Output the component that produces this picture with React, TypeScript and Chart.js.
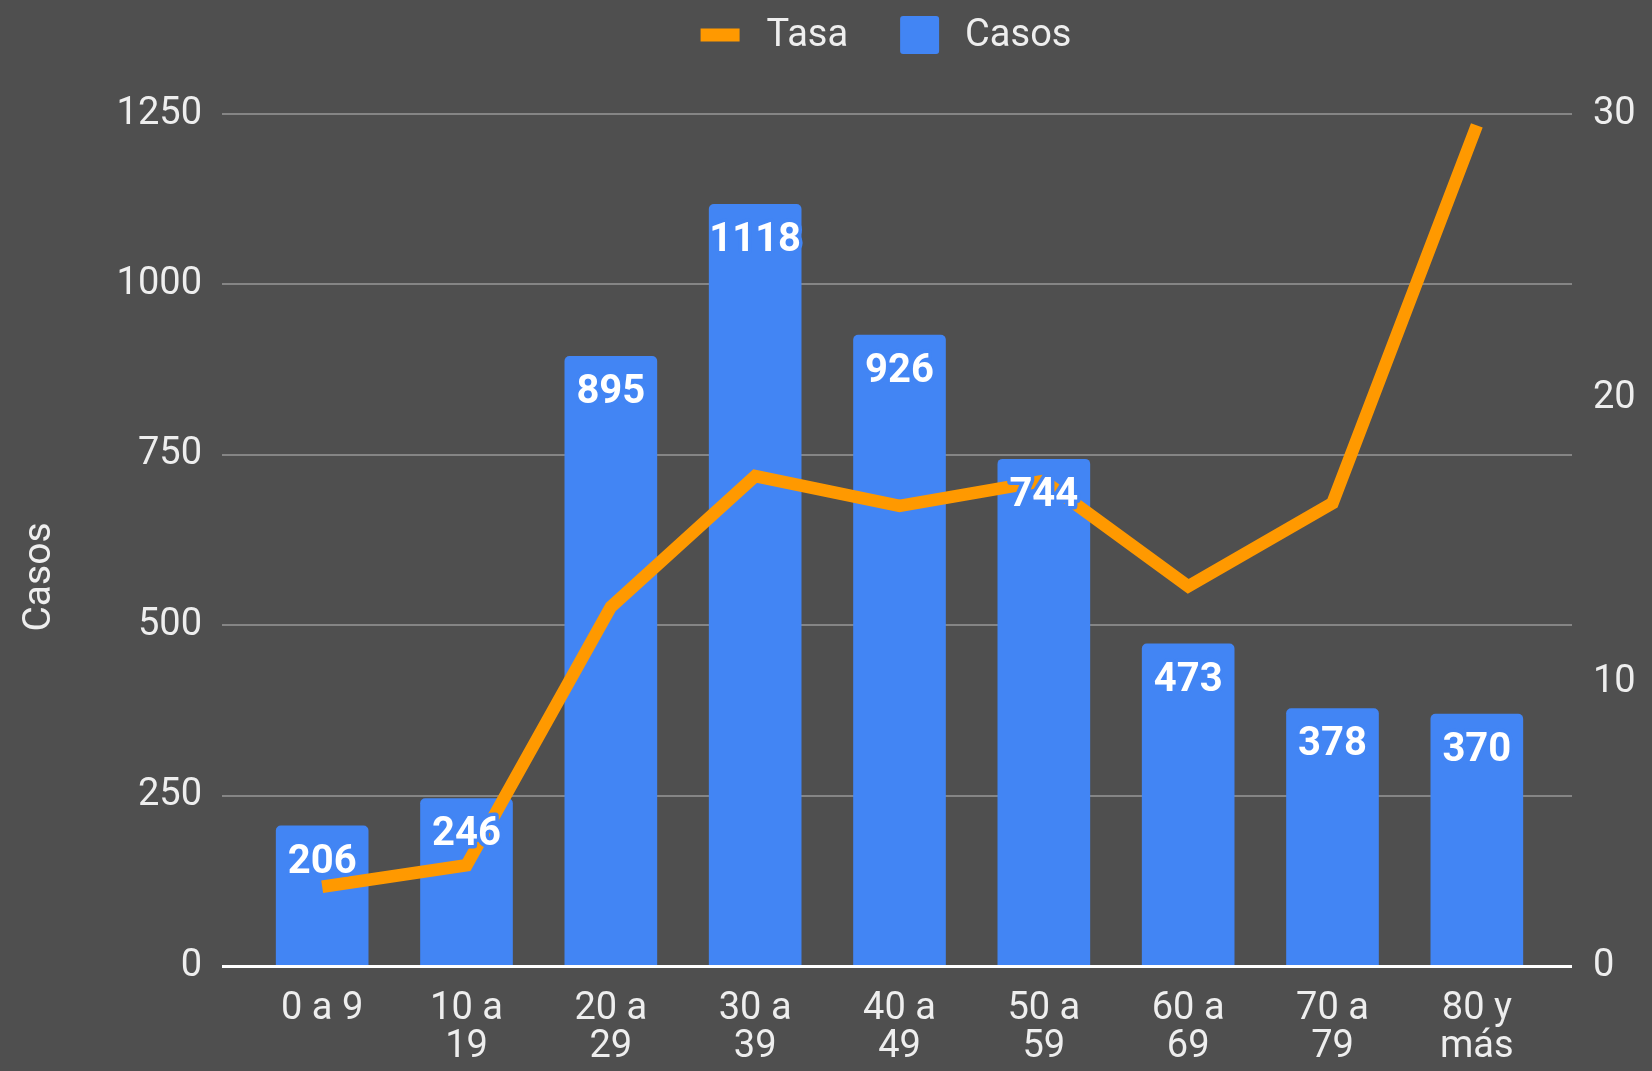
import React, { useEffect, useRef } from "react";
import { Chart, registerables } from "chart.js";

Chart.register(...registerables);

// ---- data ----
const categories: string[][] = [
  ["0 a 9"],
  ["10 a", "19"],
  ["20 a", "29"],
  ["30 a", "39"],
  ["40 a", "49"],
  ["50 a", "59"],
  ["60 a", "69"],
  ["70 a", "79"],
  ["80 y", "más"],
];
const casos: number[] = [206, 246, 895, 1118, 926, 744, 473, 378, 370];
const tasa: number[] = [2.79, 3.55, 12.64, 17.25, 16.2, 17.08, 13.37, 16.3, 29.6];
const leftMax = 1250;
const leftStep = 250;
const rightMax = 30;
const rightStep = 10;
const seriesNames = { tasa: "Tasa", casos: "Casos" };
const axisTitle = "Casos";

// ---- style ----
const BG = "#4f4f4f";
const BLUE = "#4285f4";
const ORANGE = "#ff9900";
const TEXT = "#eeeeee";
const GRID = "#858585";
const FONT = "Roboto, 'Noto Sans', sans-serif";
const FS = 38;
const W = 1652;
const H = 1071;
const EXT_L = 28;
const EXT_R = 23;

const gridPlugin = {
  id: "extGrid",
  beforeDatasetsDraw(chart: any) {
    const { ctx, chartArea } = chart;
    const y = chart.scales.y;
    ctx.save();
    ctx.strokeStyle = GRID;
    ctx.lineWidth = 2;
    y.ticks.forEach((t: any) => {
      if (t.value === 0) return;
      const py = Math.round(y.getPixelForValue(t.value));
      ctx.beginPath();
      ctx.moveTo(chartArea.left - EXT_L, py);
      ctx.lineTo(chartArea.right + EXT_R, py);
      ctx.stroke();
    });
    ctx.restore();
  },
  afterDatasetsDraw(chart: any) {
    const { ctx, chartArea } = chart;
    const y = chart.scales.y;
    ctx.save();
    // zero line
    ctx.strokeStyle = "#ffffff";
    ctx.lineWidth = 3;
    const py = y.getPixelForValue(0) + 0.5;
    ctx.beginPath();
    ctx.moveTo(chartArea.left - EXT_L, py);
    ctx.lineTo(chartArea.right + EXT_R, py);
    ctx.stroke();

    // bar value labels
    const meta = chart.getDatasetMeta(1);
    ctx.font = `bold 40px ${FONT}`;
    ctx.textAlign = "center";
    ctx.textBaseline = "middle";
    ctx.lineJoin = "round";
    meta.data.forEach((el: any, i: number) => {
      const txt = String(chart.data.datasets[1].data[i]);
      const ty = el.y + 37;
      ctx.strokeStyle = BLUE;
      ctx.lineWidth = 7;
      ctx.strokeText(txt, el.x, ty);
      ctx.fillStyle = "#ffffff";
      ctx.fillText(txt, el.x, ty);
    });

    // rotated axis title
    ctx.fillStyle = TEXT;
    ctx.font = `${FS + 1}px ${FONT}`;
    ctx.textAlign = "center";
    ctx.textBaseline = "middle";
    ctx.translate(40, (chartArea.top + chartArea.bottom) / 2 + 37);
    ctx.rotate(-Math.PI / 2);
    ctx.fillText(axisTitle, 0, 0);
    ctx.restore();
  },
  afterDraw(chart: any) {
    const { ctx } = chart;
    ctx.save();
    ctx.font = `${FS}px ${FONT}`;
    ctx.textBaseline = "middle";
    ctx.textAlign = "left";
    const t1 = chart.data.datasets[0].label;
    const t2 = chart.data.datasets[1].label;
    const w1 = ctx.measureText(t1).width;
    const w2 = ctx.measureText(t2).width;
    const total = 39 + 27 + w1 + 52 + 39 + 26 + w2;
    let x = 886 - total / 2;
    const cy = 35;
    // line marker
    ctx.fillStyle = ORANGE;
    ctx.fillRect(x, cy - 6.5, 39, 13);
    x += 39 + 27;
    ctx.fillStyle = TEXT;
    ctx.fillText(t1, x, cy + 1);
    x += w1 + 52;
    // box marker
    ctx.fillStyle = BLUE;
    ctx.beginPath();
    (ctx as any).roundRect(x, cy - 19, 39, 38, 3);
    ctx.fill();
    x += 39 + 26;
    ctx.fillStyle = TEXT;
    ctx.fillText(t2, x, cy + 1);
    ctx.restore();
  },
};

export default function App() {
  const ref = useRef<HTMLCanvasElement | null>(null);

  useEffect(() => {
    document.body.style.margin = "0";
    document.body.style.background = BG;
    const canvas = ref.current;
    if (!canvas) return;
    const tickFont = { family: FONT, size: FS, lineHeight: 1.0 };
    const chart = new Chart(canvas, {
      data: {
        labels: categories,
        datasets: [
          {
            type: "line",
            label: seriesNames.tasa,
            data: tasa,
            yAxisID: "y1",
            borderColor: ORANGE,
            backgroundColor: ORANGE,
            borderWidth: 12.5,
            pointRadius: 0,
            tension: 0,
            borderJoinStyle: "miter",
            borderCapStyle: "butt",
            order: 0,
          },
          {
            type: "bar",
            label: seriesNames.casos,
            data: casos,
            yAxisID: "y",
            backgroundColor: BLUE,
            borderWidth: 0,
            barPercentage: 0.642,
            categoryPercentage: 1,
            borderRadius: { topLeft: 5, topRight: 5, bottomLeft: 0, bottomRight: 0 },
            borderSkipped: false,
            order: 1,
          },
        ],
      } as any,
      options: {
        animation: false,
        responsive: false,
        maintainAspectRatio: false,
        layout: { padding: { top: 114, left: 0, right: 0, bottom: 0 } },
        plugins: {
          legend: { display: false },
          tooltip: { enabled: false },
        },
        scales: {
          x: {
            grid: { display: false },
            border: { display: false },
            ticks: {
              color: TEXT,
              font: tickFont,
              padding: 16,
              maxRotation: 0,
              autoSkip: false,
            },
            afterFit: (s: any) => {
              s.height = H - 966;
            },
          },
          y: {
            position: "left",
            min: 0,
            max: leftMax,
            grid: { display: false, drawTicks: false },
            border: { display: false },
            ticks: {
              stepSize: leftStep,
              color: TEXT,
              font: tickFont,
              padding: 48,
              callback: (v: any) => String(v),
            },
            afterFit: (s: any) => {
              s.width = 250;
            },
          },
          y1: {
            position: "right",
            min: 0,
            max: rightMax,
            grid: { display: false, drawTicks: false },
            border: { display: false },
            ticks: {
              stepSize: rightStep,
              color: TEXT,
              font: tickFont,
              padding: 44,
              callback: (v: any) => String(v),
            },
            afterFit: (s: any) => {
              s.width = W - 1549;
            },
          },
        },
      } as any,
      plugins: [gridPlugin],
    });
    return () => chart.destroy();
  }, []);

  return (
    <div style={{ position: "fixed", left: 0, top: 0, width: W, height: H, background: BG }}>
      <canvas ref={ref} width={W} height={H} style={{ display: "block", width: W, height: H }} />
    </div>
  );
}
